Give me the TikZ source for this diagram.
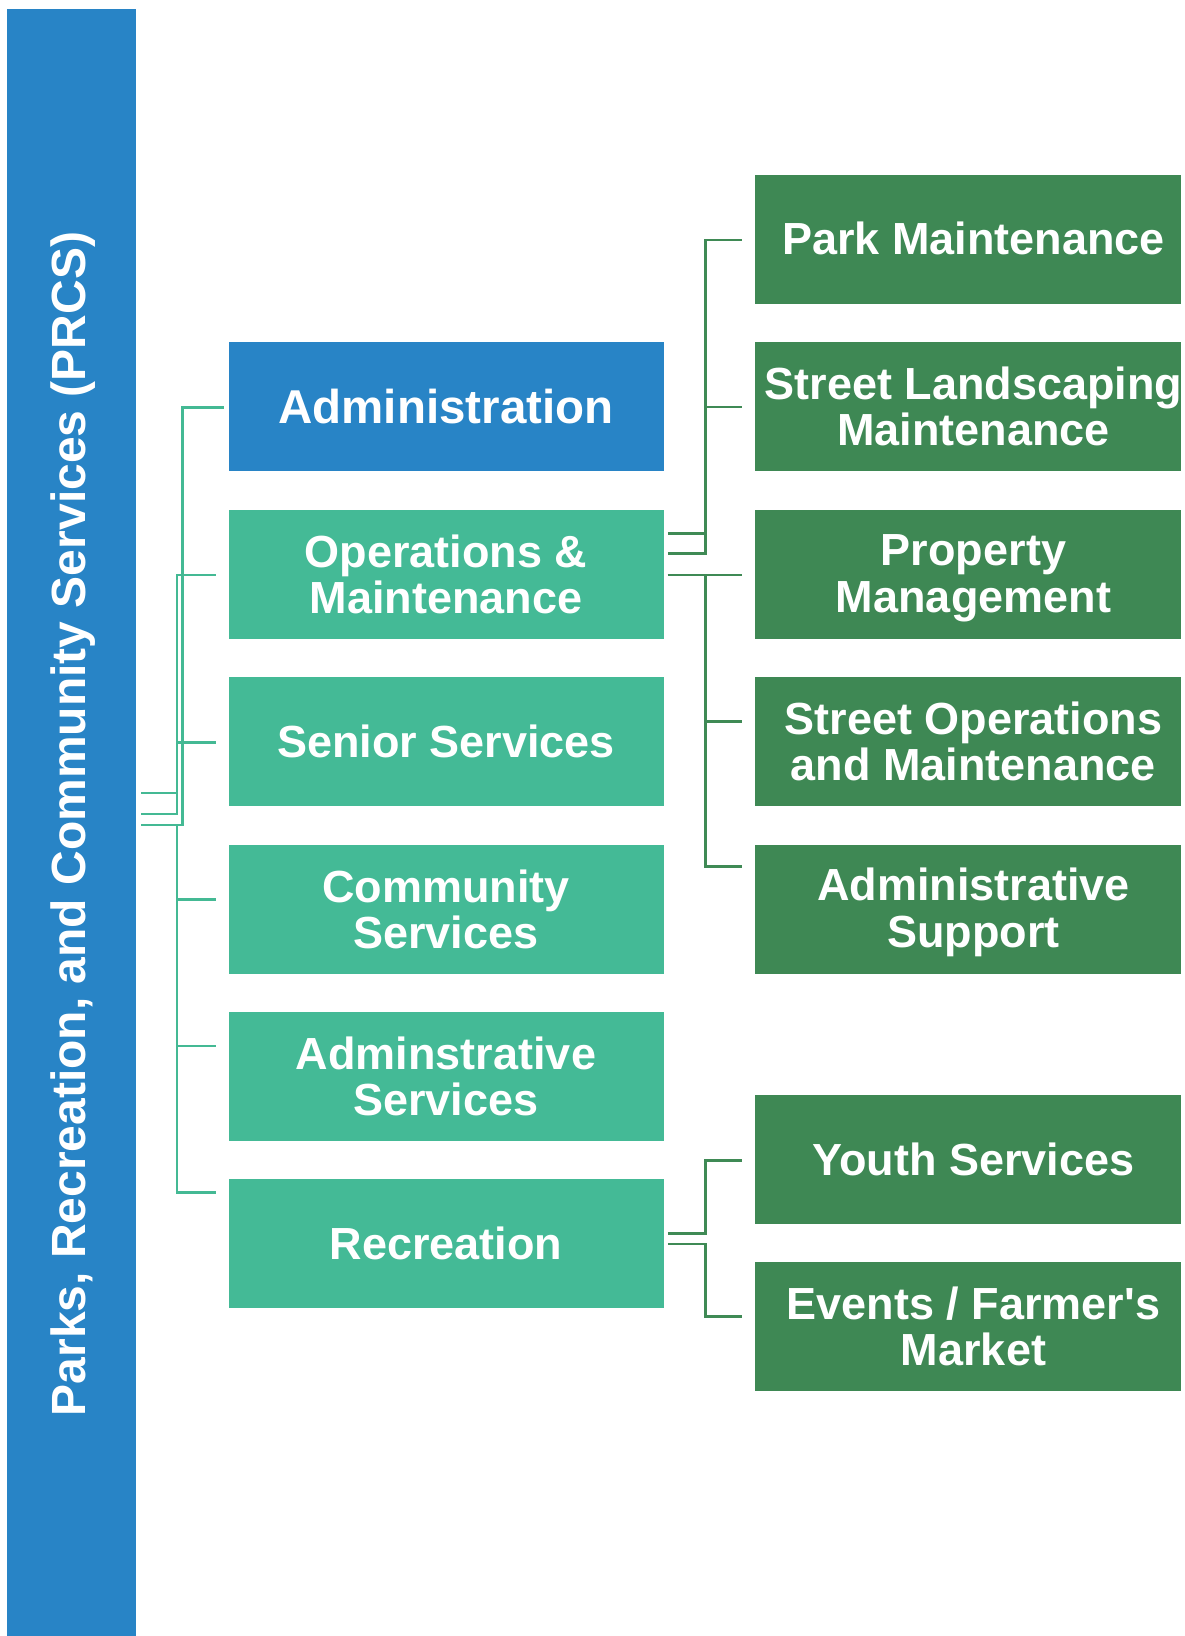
\documentclass[tikz,border=0pt]{standalone}
\usepackage{fontspec}
\setmainfont[Ligatures=TeXOff]{Liberation Sans}
\usetikzlibrary{calc}
\definecolor{prcsblue}{RGB}{40,132,198}
\definecolor{teal2}{RGB}{68,186,150}
\definecolor{green2}{RGB}{62,136,84}
\definecolor{tealline}{RGB}{68,185,148}
\definecolor{greenline}{RGB}{63,138,85}
\tikzset{
  midbox/.style={draw=none,fill=teal2,minimum width=435pt,minimum height=129pt,inner sep=0pt,
    text=white,align=center,font=\bfseries\fontsize{45}{46.5}\selectfont},
  adminbox/.style={midbox,fill=prcsblue,font=\bfseries\fontsize{47.5}{48}\selectfont},
  rightbox/.style={draw=none,fill=green2,minimum width=426pt,minimum height=129pt,inner sep=0pt},
  rtext/.style={inner sep=0pt,text=white,align=center,font=\bfseries\fontsize{45}{46.5}\selectfont},
  lconn/.style={draw=tealline,line width=2.75pt},
  rconn/.style={draw=greenline,line width=2.75pt}
}
\begin{document}
\begin{tikzpicture}[x=1pt,y=-1pt]
\useasboundingbox (0,0) rectangle (1185,1636);
% left bar
\node[fill=prcsblue,minimum width=129pt,minimum height=1627pt,inner sep=0pt] (prcs) at (71.5,822.5) {};
\node[rotate=90,text=white,font=\bfseries\fontsize{48}{50}\selectfont] (prcstext) at (73,824) {Parks, Recreation, and Community Services (PRCS)};
% middle column
\node[adminbox] (adm) at (446,406.5) {Administration};
\node[midbox] (om) at (446,574.5) {Operations \&\\Maintenance};
\node[midbox] (sen) at (446,741.5) {Senior Services};
\node[midbox] (com) at (446,909.5) {Community\\Services};
\node[midbox] (asv) at (446,1076.5) {Adminstrative\\Services};
\node[midbox] (rec) at (446,1243.5) {Recreation};
% right column
\node[rightbox] (park) at (968,239.5) {};
\node[rightbox] (stl) at (968,406.5) {};
\node[rightbox] (prop) at (968,574.5) {};
\node[rightbox] (sto) at (968,741.5) {};
\node[rightbox] (ads) at (968,909.5) {};
\node[rightbox] (youth) at (968,1159.5) {};
\node[rightbox] (evt) at (968,1326.5) {};
\node[rtext] (parkt) at ($(park.center)+(5.5,-1)$) {Park Maintenance};
\node[rtext] (stlt) at ($(stl.center)+(5.5,0)$) {Street Landscaping\\Maintenance};
\node[rtext] (propt) at ($(prop.center)+(5.5,4)$) {Property\\Management};
\node[rtext] (stot) at ($(sto.center)+(5.5,0)$) {Street Operations\\and Maintenance};
\node[rtext] (adst) at ($(ads.center)+(5.5,3)$) {Administrative\\Support};
\node[rtext] (youtht) at ($(youth.center)+(5.5,0)$) {Youth Services};
\node[rtext] (evtt) at ($(evt.center)+(5.5,0)$) {Events / Farmer's\\Market};
% left connectors
\draw[lconn] ($(prcs.east)+(5,2.5)$) -- ++(41,0) |- ($(adm.west)+(-4.5,1.2)$);
\draw[lconn] ($(prcs.east)+(5,-8.5)$) -- ++(35.7,0) |- ($(om.west)+(-12.8,0.5)$);
\draw[lconn] ($(prcs.east)+(5,-29.5)$) -- ++(35.7,0) |- ($(sen.west)+(-12.8,0.8)$);
\draw[lconn] ($(prcs.east)+(5,2.5)$) -- ++(35.7,0) |- ($(com.west)+(-12.8,-10.2)$);
\draw[lconn] ($(prcs.east)+(5,2.5)$) -- ++(35.7,0) |- ($(asv.west)+(-12.8,-30.5)$);
\draw[lconn] ($(prcs.east)+(5,2.5)$) -- ++(35.7,0) |- ($(rec.west)+(-12.8,-51.2)$);
% right connectors from Operations & Maintenance
\draw[rconn] ($(om.east)+(4.2,-41.2)$) -- ++(37.3,0) |- ($(park.west)+(-12.7,0.5)$);
\draw[rconn] ($(om.east)+(4.2,-21.2)$) -- ++(37.3,0) |- ($(stl.west)+(-12.7,0.5)$);
\draw[rconn] ($(om.east)+(4.2,0.5)$) -- ($(prop.west)+(-12.7,0.5)$);
\draw[rconn] ($(om.east)+(4.2,0.5)$) -- ++(37.3,0) |- ($(sto.west)+(-12.7,-20.2)$);
\draw[rconn] ($(om.east)+(4.2,0.5)$) -- ++(37.3,0) |- ($(ads.west)+(-12.7,-42.8)$);
% right connectors from Recreation
\draw[rconn] ($(rec.east)+(4.2,-10.2)$) -- ++(37.3,0) |- ($(youth.west)+(-12.7,1.2)$);
\draw[rconn] ($(rec.east)+(4.2,0.5)$) -- ++(37.3,0) |- ($(evt.west)+(-12.7,-9.8)$);
\end{tikzpicture}
\end{document}
